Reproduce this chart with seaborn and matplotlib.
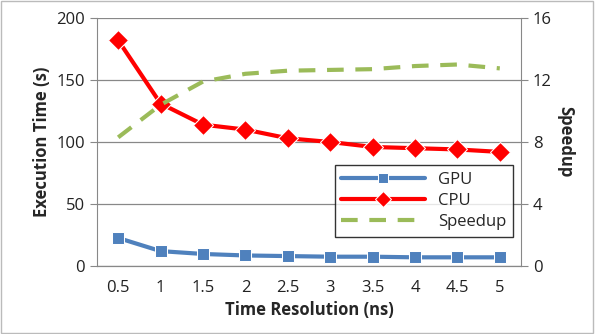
import pandas as pd
import matplotlib.pyplot as plt
import seaborn as sns
from matplotlib.ticker import FixedLocator

# Values
resolution = ['0.5', '1', '1.5', '2', '2.5', '3', '3.5', '4', '4.5', '5']
gpu_time = [22.6, 12.0, 9.7, 8.5, 8.0, 7.5, 7.5, 7.0, 7.0, 7.0]
cpu_time = [182, 131, 114, 110, 103, 100, 96, 95, 94, 92]
speedup = [8.3, 10.4, 11.9, 12.4, 12.6, 12.65, 12.7, 12.9, 13.0, 12.75]

data = pd.DataFrame({'pos': range(len(resolution)), 'GPU': gpu_time,
                     'CPU': cpu_time, 'Speedup': speedup})

sns.set_style('white')
plt.rcParams['font.family'] = ['Open Sans', 'DejaVu Sans']

fig, ax = plt.subplots(figsize=(5.95, 3.34), dpi=100)
fig.subplots_adjust(left=97 / 595, right=521 / 595, top=1 - 18 / 334, bottom=1 - 266 / 334)
ax2 = ax.twinx()

sns.lineplot(data=data, x='pos', y='GPU', ax=ax, color='#4f81bd', marker='s',
             markersize=8, linewidth=3, label='GPU', legend=False)
sns.lineplot(data=data, x='pos', y='CPU', ax=ax, color='#ff0000', marker='D',
             markersize=10, linewidth=3, label='CPU', legend=False)
sns.lineplot(data=data, x='pos', y='Speedup', ax=ax2, color='#9bbb59',
             linewidth=3, dashes=(4, 2.8), label='Speedup', legend=False)

ax.set_xlim(-0.5, len(resolution) - 0.5)
ax.set_ylim(0, 200)
ax.set_yticks([0, 50, 100, 150, 200])
ax2.set_ylim(0, 16)
ax2.set_yticks([0, 4, 8, 12, 16])

ax.set_xticks(range(len(resolution)))
ax.set_xticklabels(resolution)
ax.xaxis.set_minor_locator(FixedLocator([i - 0.5 for i in range(len(resolution) + 1)]))
ax.tick_params(axis='x', which='major', length=0, labelsize=12, pad=10, colors='#222222')
ax.tick_params(axis='x', which='minor', length=5, color='#888888', direction='out')
ax.tick_params(axis='y', length=5, color='#888888', labelsize=12, direction='out', labelcolor='#222222')
ax2.tick_params(axis='y', length=5, color='#888888', labelsize=12, direction='out', labelcolor='#222222')

ax.grid(axis='y', color='#888888', linewidth=0.9)
ax.set_axisbelow(True)
for a in (ax, ax2):
    a.spines['top'].set_visible(False)
    for s in ('left', 'right', 'bottom'):
        a.spines[s].set_color('#888888')
ax2.spines['left'].set_visible(False)
ax.spines['right'].set_visible(False)

ax.set_xlabel('Time Resolution (ns)', fontsize=12, fontweight='bold')
ax.set_ylabel('Execution Time (s)', fontsize=12, fontweight='bold')
ax2.set_ylabel('Speedup', fontsize=12, fontweight='bold', rotation=270, labelpad=16)

h1, l1 = ax.get_legend_handles_labels()
h2, l2 = ax2.get_legend_handles_labels()
leg = ax2.legend(h1 + h2, l1 + l2, loc='lower right', bbox_to_anchor=(0.981, 0.117),
                 borderaxespad=0, fontsize=12, frameon=True, fancybox=False,
                 edgecolor='black', handlelength=5.0, borderpad=0.4, labelspacing=0.32,
                 markerscale=0.85)
leg.get_frame().set_linewidth(1.0)

fig.patches.append(plt.Rectangle((0.002, 0.003), 0.995, 0.994, transform=fig.transFigure,
                                 fill=False, edgecolor='#bbbbbb', linewidth=1))

fig.savefig('out.png', dpi=100)
